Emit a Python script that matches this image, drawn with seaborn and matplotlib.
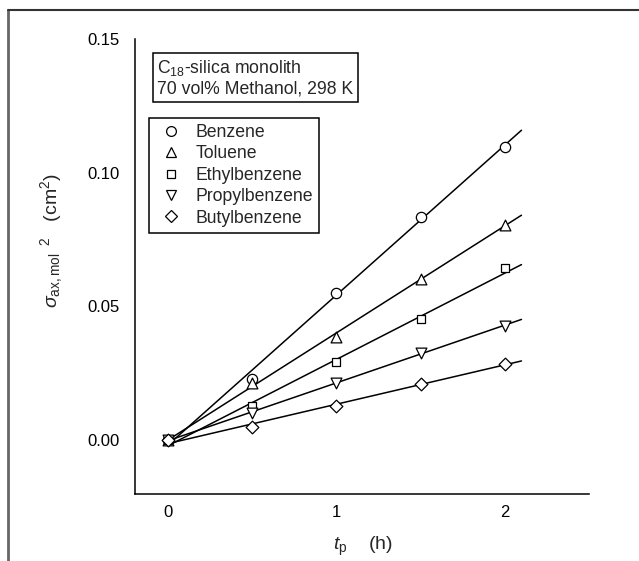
import numpy as np
import pandas as pd
import seaborn as sns
import matplotlib.pyplot as plt
from matplotlib.lines import Line2D
from matplotlib.ticker import MultipleLocator

# tiempos de retencion (h) y varianzas (cm^2)
tp = [0, 0.5, 1.0, 1.5, 2.0]
compuestos = ['Benzene', 'Toluene', 'Ethylbenzene', 'Propylbenzene', 'Butylbenzene']
benzene = [0.0, 0.0231, 0.0552, 0.0835, 0.1096]
toluene = [0.0, 0.0214, 0.0387, 0.0601, 0.0805]
ethylbenzene = [0.0, 0.0127, 0.0291, 0.0452, 0.0642]
propylbenzene = [0.0, 0.0104, 0.0216, 0.0327, 0.0427]
butylbenzene = [0.0, 0.0050, 0.0129, 0.0210, 0.0287]
x_ajuste = [0, 2.1]  # rango de la recta ajustada

valores = [benzene, toluene, ethylbenzene, propylbenzene, butylbenzene]
marcadores = ['o', '^', 's', 'v', 'D']
tamanos = [55, 60, 38, 60, 42]

df = pd.DataFrame({'tp': tp * len(compuestos),
                   'sigma2': sum(valores, []),
                   'comp': [c for c in compuestos for _ in tp]})

sns.set_style('white')
plt.rcParams['font.family'] = ['Liberation Sans', 'DejaVu Sans']
plt.rcParams['mathtext.fontset'] = 'custom'
plt.rcParams['mathtext.rm'] = 'Liberation Sans'
plt.rcParams['mathtext.it'] = 'Liberation Sans:italic'

fig = plt.figure(figsize=(6.39, 5.61), dpi=100)
ax = fig.add_axes([0.2105, 0.1194, 0.7109, 0.8118])

handles = []
for comp, m, s in zip(compuestos, marcadores, tamanos):
    sub = df[df['comp'] == comp]
    a, b = np.polyfit(sub['tp'], sub['sigma2'], 1)  # regresion lineal
    xf = np.array(x_ajuste)
    sns.lineplot(x=xf, y=a * xf + b, ax=ax, color='black', lw=1.1, zorder=2)
    sns.scatterplot(data=sub, x='tp', y='sigma2', ax=ax, marker=m, s=s,
                    facecolor='white', edgecolor='black', linewidth=0.9,
                    zorder=3, legend=False)
    handles.append(Line2D([], [], ls='none', marker=m, markersize=np.sqrt(s) * 0.95,
                          mfc='white', mec='black', mew=0.9, label=comp))

ax.set_xlim(-0.2, 2.5)
ax.set_ylim(-0.02, 0.15)
ax.set_xticks([0, 1, 2])
ax.set_yticks([0.0, 0.05, 0.10, 0.15])
ax.set_yticklabels(['0.00', '0.05', '0.10', '0.15'])
ax.xaxis.set_minor_locator(MultipleLocator(0.5))
ax.yaxis.set_minor_locator(MultipleLocator(0.025))
ax.tick_params(which='both', direction='in', length=5, width=1, color='black',
               labelsize=12, labelcolor='black')
ax.tick_params(axis='y', which='both', pad=11)
ax.tick_params(axis='x', which='both', pad=8)
for lado in ['top', 'right']:
    ax.spines[lado].set_visible(False)
for lado in ['left', 'bottom']:
    ax.spines[lado].set_color('black')
    ax.spines[lado].set_linewidth(1.1)

ax.set_ylabel(r'$\sigma_{\mathrm{ax,mol}}{}^{\ \ 2}$   (cm$^2$)', fontsize=14)
ax.yaxis.set_label_coords(-0.152, 0.556)
ax.set_xlabel(r'$t_{\mathrm{p}}$    (h)', fontsize=14, va='top')
ax.xaxis.set_label_coords(0.502, -0.09)

ax.text(0.05, 0.957, 'C$_{18}$-silica monolith\n70 vol% Methanol, 298 K',
        transform=ax.transAxes, fontsize=12.7, va='top', ha='left', linespacing=1.15,
        bbox=dict(boxstyle='square,pad=0.25', fc='white', ec='black', lw=1.1))

leg = ax.legend(handles=handles, loc='upper left', bbox_to_anchor=(0.0326, 0.826),
                borderaxespad=0, frameon=True, fancybox=False, edgecolor='black',
                framealpha=1, fontsize=12.7, handlelength=1.75, handletextpad=0.5,
                labelspacing=0.25, borderpad=0.35)
leg.get_frame().set_linewidth(1.1)

# marco gris de la figura (solo izquierda y arriba)
fig.add_artist(Line2D([0.0125, 0.0125], [0, 0.983], transform=fig.transFigure,
                      color='#666666', lw=2))
fig.add_artist(Line2D([0.0125, 1.0], [0.983, 0.983], transform=fig.transFigure,
                      color='#333333', lw=1.5))

fig.savefig('out.png', dpi=100)
